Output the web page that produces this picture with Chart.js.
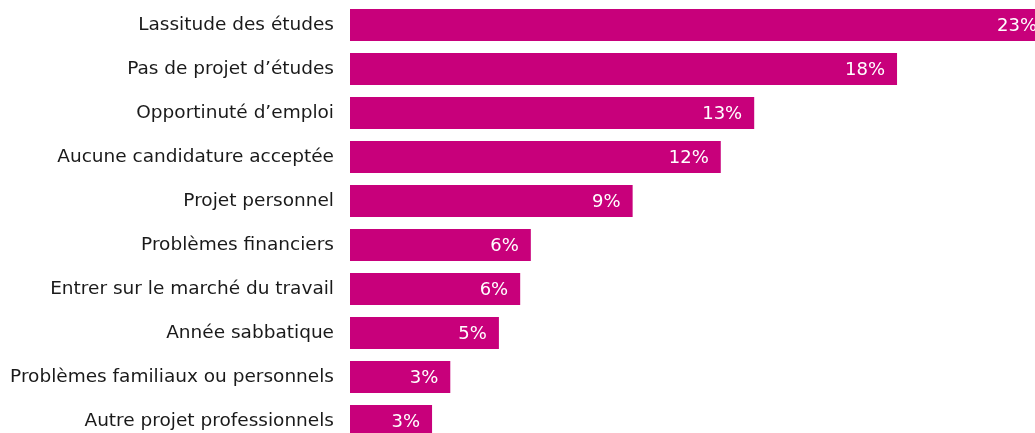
<!DOCTYPE html>
<html>
<head>
<meta charset="utf-8">
<script src="https://cdn.jsdelivr.net/npm/chart.js@4"></script>
<style>
  html, body { margin: 0; padding: 0; background: #fff; overflow: hidden; }
  #wrap { width: 1060px; height: 446px; }
</style>
</head>
<body>
<div id="wrap"><canvas id="reasonsChart" width="1060" height="446"></canvas></div>
<script>
// Reasons for stopping studies (share of answers, %)
const categories = [
    'Lassitude des études',
    'Pas de projet d\u2019études',
    'Opportinuté d\u2019emploi',
    'Aucune candidature acceptée',
    'Projet personnel',
    'Problèmes financiers',
    'Entrer sur le marché du travail',
    'Année sabbatique',
    'Problèmes familiaux ou personnels',
    'Autre projet professionnels'
];
const shares = [23.0, 18.0, 13.3, 12.2, 9.3, 5.95, 5.6, 4.9, 3.3, 2.7];

const barColor = '#c8007b';
const fontFamily = '"DejaVu Sans", Verdana, sans-serif';

// Draws the white "xx%" label inside the end of each bar
const valueLabels = {
    id: 'valueLabels',
    afterDatasetsDraw(chart) {
        const ctx = chart.ctx;
        const meta = chart.getDatasetMeta(0);
        ctx.save();
        ctx.font = '18px ' + fontFamily;
        ctx.fillStyle = '#ffffff';
        ctx.textAlign = 'right';
        ctx.textBaseline = 'middle';
        meta.data.forEach((bar, i) => {
            ctx.fillText(Math.round(shares[i]) + '%', bar.x - 12, bar.y + 1);
        });
        ctx.restore();
    }
};

new Chart(document.getElementById('reasonsChart'), {
    type: 'bar',
    data: {
        labels: categories,
        datasets: [{
            data: shares,
            backgroundColor: barColor,
            borderWidth: 0,
            categoryPercentage: 0.727,
            barPercentage: 1
        }]
    },
    options: {
        indexAxis: 'y',
        responsive: false,
        animation: false,
        layout: { padding: { top: 3, bottom: 3, right: 11, left: 0 } },
        plugins: {
            legend: { display: false },
            tooltip: { enabled: false }
        },
        scales: {
            x: {
                display: false,
                min: 0,
                max: 23
            },
            y: {
                grid: { display: false, drawTicks: false },
                border: { display: false },
                ticks: {
                    color: '#1a1a1a',
                    padding: 16,
                    font: { family: fontFamily, size: 18.5 }
                },
                afterFit(scale) {
                    scale.width = 350;
                    scale.paddingTop = 0;
                    scale.paddingBottom = 0;
                }
            }
        }
    },
    plugins: [valueLabels]
});
</script>
</body>
</html>
